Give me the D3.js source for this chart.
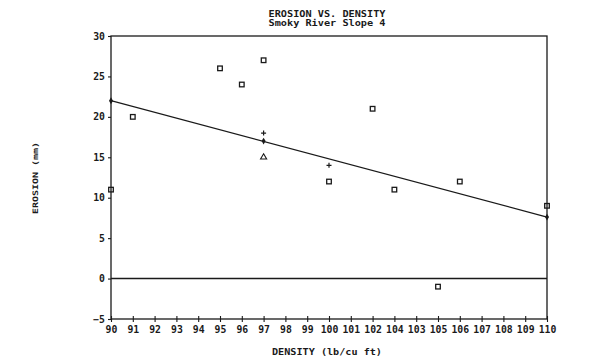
<!DOCTYPE html>
<html><head><meta charset="utf-8">
<script src="https://cdn.jsdelivr.net/npm/d3@7"></script>
<style>body{margin:0;background:#fff}svg{display:block}</style>
</head><body>
<script>
// ---- data ----
const xTickValues = [90,91,92,93,94,95,96,97,98,99,100,101,102,103,104,105,106,107,108,109,110];
const xTickLabels = ["90","91","92","93","94","95","96","97","98","99","100","101","102","104","103","105","106","107","108","109","110"];
const yTickValues = [-5,0,5,10,15,20,25,30];
const squareX = [90, 91, 95, 96, 97, 100, 102, 103, 105, 106, 110];
const squareY = [11, 20, 26, 24, 27, 12, 21, 11, -1, 12, 9];
const plusX = [97, 100];
const plusY = [18, 14];
const triangleX = [97];
const triangleY = [15];
const fitX = [90, 110];
const fitY = [22, 7.6];
const meanX = [97];
const meanY = [17];
const title = "EROSION VS. DENSITY";
const subtitle = "Smoky River Slope 4";
const xTitle = "DENSITY (lb/cu ft)";
const yTitle = "EROSION (mm)";

// ---- layout ----
const W = 600, H = 360;
const L = 111, R = 547, T = 36, B = 319;
const ink = "#1a1a1a";
const font = "'DejaVu Sans Mono', monospace";

const svg = d3.select("body").append("svg").attr("width", W).attr("height", H);
svg.append("rect").attr("width", W).attr("height", H).attr("fill", "#fff");

const x = d3.scaleLinear().domain([90, 110]).range([L, R]);
const y = d3.scaleLinear().domain([-5, 30]).range([B, T]);

// frame
svg.append("rect").attr("x", L).attr("y", T).attr("width", R - L).attr("height", B - T)
  .attr("fill", "none").attr("stroke", ink).attr("stroke-width", 1.3);

// axes
const xAxis = d3.axisBottom(x).tickValues(xTickValues).tickSize(3)
  .tickFormat((d, i) => xTickLabels[i]);
const gx = svg.append("g").attr("transform", `translate(0,${B})`).call(xAxis);
gx.select(".domain").remove();
gx.selectAll(".tick line").attr("y1", -3).attr("y2", 3).attr("stroke", ink).attr("stroke-width", 1.1);
gx.selectAll(".tick text").attr("y", 7).attr("dy", "0.71em")
  .attr("font-family", font).attr("font-size", 9.8).attr("font-weight", "bold").attr("fill", ink);

const yAxis = d3.axisLeft(y).tickValues(yTickValues).tickSize(3).tickFormat(d3.format("d"));
const gy = svg.append("g").attr("transform", `translate(${L},0)`).call(yAxis);
gy.select(".domain").remove();
gy.selectAll(".tick line").attr("stroke", ink).attr("stroke-width", 1.1);
gy.selectAll(".tick text").attr("x", -6)
  .attr("font-family", font).attr("font-size", 9.8).attr("font-weight", "bold").attr("fill", ink);

// zero line
svg.append("line").attr("x1", L).attr("x2", R).attr("y1", y(0)).attr("y2", y(0))
  .attr("stroke", ink).attr("stroke-width", 1.4);

// fit line
const fit = fitX.map((v, i) => [v, fitY[i]]);
svg.append("path").attr("d", d3.line().x(d => x(d[0])).y(d => y(d[1]))(fit))
  .attr("fill", "none").attr("stroke", ink).attr("stroke-width", 1.2);

// diamonds at fit ends and mean
const diam = fit.concat(meanX.map((v, i) => [v, meanY[i]]));
svg.selectAll(".dm").data(diam).enter().append("path")
  .attr("d", d3.symbol().type(d3.symbolDiamond).size(14))
  .attr("transform", d => `translate(${x(d[0])},${y(d[1])})`).attr("fill", ink);

// squares
svg.selectAll(".sq").data(squareX.map((v, i) => [v, squareY[i]])).enter().append("rect")
  .attr("x", d => x(d[0]) - 2.3).attr("y", d => y(d[1]) - 2.3)
  .attr("width", 4.6).attr("height", 4.6)
  .attr("fill", "none").attr("stroke", ink).attr("stroke-width", 1.3);

// plus
svg.selectAll(".pl").data(plusX.map((v, i) => [v, plusY[i]])).enter().append("path")
  .attr("d", d => `M${x(d[0]) - 2.5},${y(d[1])}h5M${x(d[0])},${y(d[1]) - 2.5}v5`)
  .attr("stroke", ink).attr("stroke-width", 1.2);

// triangles
svg.selectAll(".tr").data(triangleX.map((v, i) => [v, triangleY[i]])).enter().append("path")
  .attr("d", d3.symbol().type(d3.symbolTriangle).size(16))
  .attr("transform", d => `translate(${x(d[0])},${y(d[1])})`)
  .attr("fill", "none").attr("stroke", ink).attr("stroke-width", 1.1);

// titles
const cx = (L + R) / 2 - 2;
svg.append("text").attr("x", cx).attr("y", 17).attr("text-anchor", "middle")
  .attr("font-family", font).attr("font-size", 9).attr("font-weight", "bold").attr("fill", ink)
  .attr("textLength", 117).attr("lengthAdjust", "spacingAndGlyphs").text(title);
svg.append("text").attr("x", cx).attr("y", 26).attr("text-anchor", "middle")
  .attr("font-family", font).attr("font-size", 9).attr("font-weight", "bold").attr("fill", ink)
  .attr("textLength", 117).attr("lengthAdjust", "spacingAndGlyphs").text(subtitle);
svg.append("text").attr("x", cx).attr("y", 355).attr("text-anchor", "middle")
  .attr("font-family", font).attr("font-size", 9).attr("font-weight", "bold").attr("fill", ink)
  .attr("textLength", 110).attr("lengthAdjust", "spacingAndGlyphs").text(xTitle);
svg.append("text").attr("transform", `translate(38,178) rotate(-90)`).attr("text-anchor", "middle")
  .attr("font-family", font).attr("font-size", 7.5).attr("font-weight", "bold").attr("fill", ink)
  .attr("textLength", 72).attr("lengthAdjust", "spacingAndGlyphs").text(yTitle);
</script>
</body></html>
